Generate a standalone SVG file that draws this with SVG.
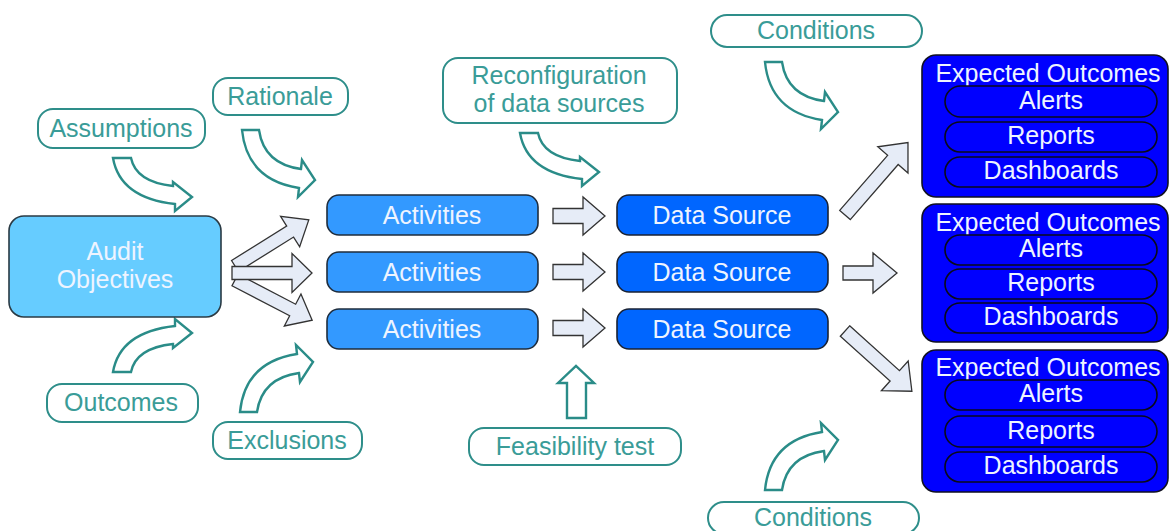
<svg xmlns="http://www.w3.org/2000/svg" xmlns:xlink="http://www.w3.org/1999/xlink" width="1170" height="531" viewBox="0 0 1170 531">
  <style>
    text { font-family: "Liberation Sans", Arial, sans-serif; font-size: 25px; text-anchor: middle; }
    .lbl rect { fill: #ffffff; stroke: #2e8e8a; stroke-width: 2; }
    .lbl text { fill: #3a9c98; }
    .box text { fill: #eef4ff; }
    .obj { fill: #66ccff; stroke: #2a3a44; stroke-width: 1.6; }
    .act { fill: #3399ff; stroke: #1f2d3d; stroke-width: 1.6; }
    .ds { fill: #0066ff; stroke: #1a2233; stroke-width: 1.6; }
    .eo { fill: #0000ff; stroke: #111122; stroke-width: 1.6; }
    .pill { fill: #0000ff; stroke: #0a0a1a; stroke-width: 1.6; }
    .blk { fill: #e6ecf7; stroke: #333333; stroke-width: 1.3; stroke-linejoin: miter; }
    .crv { fill: #ffffff; stroke: #2a8c88; stroke-width: 2.4; stroke-linejoin: miter; }
  </style>
  <defs>
    <!-- hollow curved arrows, tail at origin -->
    <path id="curveA" d="M0,0 L18,0 Q23,24 60,28 L60,24 L79,39 L62,53 L62,46 Q7,40 0,0 Z"/>
    <path id="curveB" d="M0,0 L17,0 Q22,34 59,39 L60,30 L73,50 L56,67 L57,58 Q5,50 0,0 Z"/>
    <!-- block arrows pointing along +x -->
    <polygon id="fanArrow" points="0,-6.5 65,-6.5 65,-18 87,0 65,18 65,6.5 0,6.5"/>
    <polygon id="midArrow" points="0,-6.5 60,-6.5 60,-19.5 80,0 60,19.5 60,6.5 0,6.5"/>
    <polygon id="stepArrow" points="0,-7.5 30,-7.5 30,-19 52,0 30,19 30,7.5 0,7.5"/>
    <polygon id="outArrow" points="0,-7 73,-7 73,-20 96,0 73,20 73,7 0,7"/>
    <polygon id="outArrowShort" points="0,-7 67,-7 67,-20 90,0 67,20 67,7 0,7"/>
    <polygon id="outMid" points="0,-7 30,-7 30,-20 54,0 30,20 30,7 0,7"/>
  </defs>

  <g id="connectors">
    <!-- fan from objectives to activities -->
    <use xlink:href="#fanArrow" class="blk" transform="translate(235,266) rotate(-32)"/>
    <use xlink:href="#fanArrow" class="blk" transform="translate(235,280) rotate(27.5)"/>
    <use xlink:href="#midArrow" class="blk" transform="translate(232,273)"/>
    <!-- activities to data sources -->
    <use xlink:href="#stepArrow" class="blk" transform="translate(553,216)"/>
    <use xlink:href="#stepArrow" class="blk" transform="translate(553,272)"/>
    <use xlink:href="#stepArrow" class="blk" transform="translate(553,328)"/>
    <!-- data sources to expected outcomes -->
    <use xlink:href="#outArrow" class="blk" transform="translate(845,215) rotate(-49)"/>
    <use xlink:href="#outMid" class="blk" transform="translate(843,273)"/>
    <use xlink:href="#outArrowShort" class="blk" transform="translate(845,331) rotate(42)"/>
    <!-- influence arrows from labels -->
    <use xlink:href="#curveA" class="crv" transform="translate(113,158)"/>
    <use xlink:href="#curveB" class="crv" transform="translate(242,130)"/>
    <use xlink:href="#curveA" class="crv" transform="translate(113,372) scale(1,-1)"/>
    <use xlink:href="#curveB" class="crv" transform="translate(240,412) scale(1,-1)"/>
    <use xlink:href="#curveA" class="crv" transform="translate(520,133)"/>
    <use xlink:href="#curveB" class="crv" transform="translate(765,62)"/>
    <use xlink:href="#curveB" class="crv" transform="translate(765,490) scale(1,-1)"/>
    <path class="crv" d="M567,418 L586,418 L586,383 L594,383 L576,366 L558,383 L567,383 Z"/>
  </g>

  <g id="audit-objectives" class="box">
    <rect class="obj" x="9" y="216" width="212" height="101" rx="15"/>
    <text x="115" y="260">Audit</text>
    <text x="115" y="288">Objectives</text>
  </g>

  <g id="activities-1" class="box">
    <rect class="act" x="327" y="195" width="211" height="40" rx="12"/>
    <text x="432" y="224">Activities</text>
  </g>
  <g id="activities-2" class="box">
    <rect class="act" x="327" y="252" width="211" height="40" rx="12"/>
    <text x="432" y="281">Activities</text>
  </g>
  <g id="activities-3" class="box">
    <rect class="act" x="327" y="309" width="211" height="40" rx="12"/>
    <text x="432" y="338">Activities</text>
  </g>

  <g id="data-source-1" class="box">
    <rect class="ds" x="617" y="195" width="211" height="40" rx="12"/>
    <text x="722" y="224">Data Source</text>
  </g>
  <g id="data-source-2" class="box">
    <rect class="ds" x="617" y="252" width="211" height="40" rx="12"/>
    <text x="722" y="281">Data Source</text>
  </g>
  <g id="data-source-3" class="box">
    <rect class="ds" x="617" y="309" width="211" height="40" rx="12"/>
    <text x="722" y="338">Data Source</text>
  </g>

  <g id="expected-outcomes-1" class="box">
    <rect class="eo" x="922" y="55" width="246" height="142" rx="14"/>
    <text x="1048" y="82">Expected Outcomes</text>
    <rect class="pill" x="945" y="86" width="212" height="31" rx="15.5"/>
    <text x="1051" y="109">Alerts</text>
    <rect class="pill" x="945" y="122" width="212" height="30" rx="15"/>
    <text x="1051" y="144">Reports</text>
    <rect class="pill" x="945" y="157" width="212" height="30" rx="15"/>
    <text x="1051" y="179">Dashboards</text>
  </g>
  <g id="expected-outcomes-2" class="box">
    <rect class="eo" x="922" y="204" width="246" height="138" rx="14"/>
    <text x="1048" y="231">Expected Outcomes</text>
    <rect class="pill" x="945" y="235" width="212" height="30" rx="15"/>
    <text x="1051" y="257">Alerts</text>
    <rect class="pill" x="945" y="269" width="212" height="30" rx="15"/>
    <text x="1051" y="291">Reports</text>
    <rect class="pill" x="945" y="303" width="212" height="30" rx="15"/>
    <text x="1051" y="325">Dashboards</text>
  </g>
  <g id="expected-outcomes-3" class="box">
    <rect class="eo" x="922" y="350" width="246" height="142" rx="14"/>
    <text x="1048" y="376">Expected Outcomes</text>
    <rect class="pill" x="945" y="380" width="212" height="30" rx="15"/>
    <text x="1051" y="402">Alerts</text>
    <rect class="pill" x="945" y="416" width="212" height="31" rx="15.5"/>
    <text x="1051" y="439">Reports</text>
    <rect class="pill" x="945" y="452" width="212" height="30" rx="15"/>
    <text x="1051" y="474">Dashboards</text>
  </g>

  <g id="assumptions" class="lbl">
    <rect x="38" y="109" width="167" height="39" rx="15"/>
    <text x="121" y="137">Assumptions</text>
  </g>
  <g id="rationale" class="lbl">
    <rect x="213" y="78" width="135" height="37" rx="15"/>
    <text x="280" y="105">Rationale</text>
  </g>
  <g id="outcomes" class="lbl">
    <rect x="47" y="384" width="151" height="38" rx="15"/>
    <text x="121" y="411">Outcomes</text>
  </g>
  <g id="exclusions" class="lbl">
    <rect x="213" y="422" width="149" height="37" rx="15"/>
    <text x="287" y="449">Exclusions</text>
  </g>
  <g id="reconfiguration" class="lbl">
    <rect x="443" y="58" width="234" height="65" rx="15"/>
    <text x="559" y="84">Reconfiguration</text>
    <text x="559" y="112">of data sources</text>
  </g>
  <g id="conditions-top" class="lbl">
    <rect x="711" y="15" width="211" height="32" rx="16"/>
    <text x="816" y="39">Conditions</text>
  </g>
  <g id="conditions-bottom" class="lbl">
    <rect x="708" y="502" width="211" height="32" rx="16"/>
    <text x="813" y="526">Conditions</text>
  </g>
  <g id="feasibility-test" class="lbl">
    <rect x="469" y="428" width="212" height="37" rx="15"/>
    <text x="575" y="455">Feasibility test</text>
  </g>
</svg>
